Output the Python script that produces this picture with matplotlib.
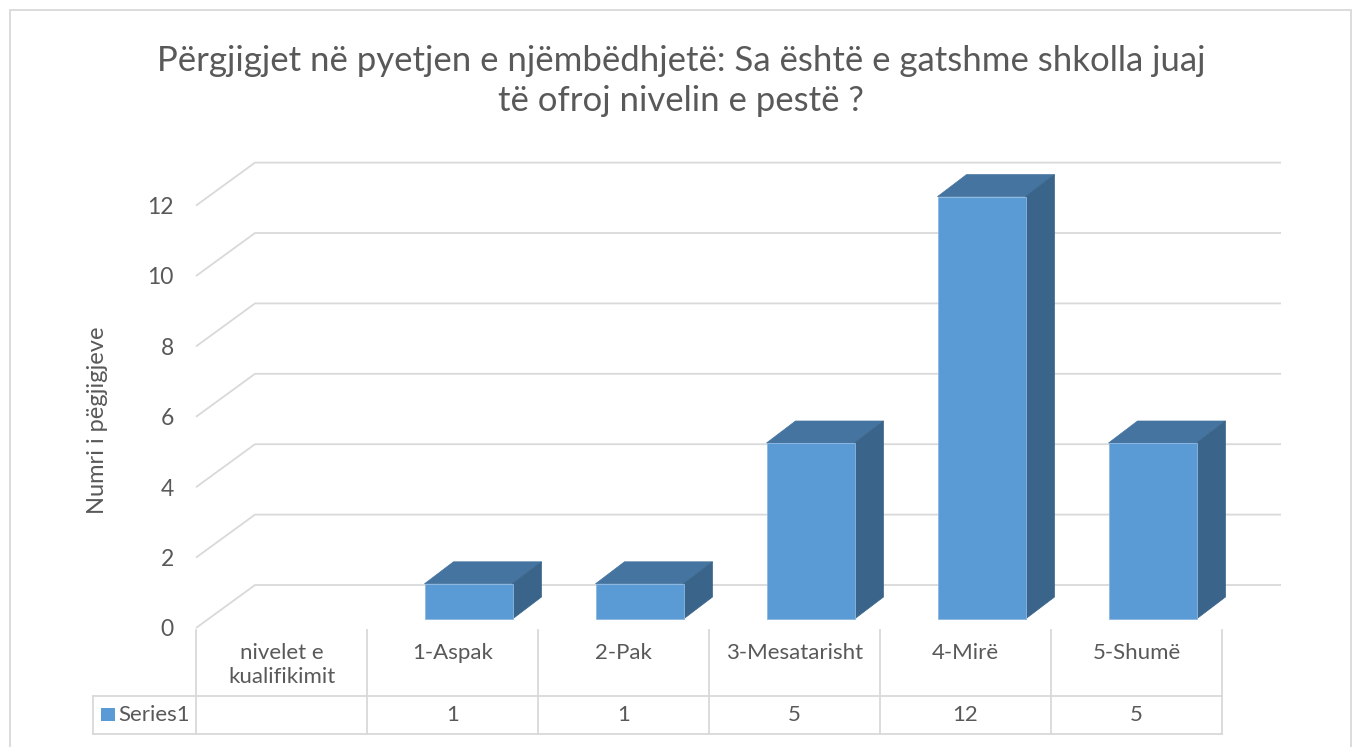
import numpy as np
import matplotlib.pyplot as plt
from matplotlib.patches import Polygon, Rectangle

plt.rcParams['font.family'] = ['Lato', 'DejaVu Sans']

# data
categories = ['nivelet e\nkualifikimit', '1-Aspak', '2-Pak', '3-Mesatarisht', '4-Mirë', '5-Shumë']
values = np.array([np.nan, 1, 1, 5, 12, 5])
series_name = 'Series1'
yticks = [0, 2, 4, 6, 8, 10, 12]
title = 'Përgjigjet në pyetjen e njëmbëdhjetë: Sa është e gatshme shkolla juaj\ntë ofroj nivelin e pestë ?'
ylabel = 'Numri i pëgjigjeve'

# colours
front_col = '#5B9BD5'
top_col = '#44749F'
side_col = '#3A6489'
grid_col = '#D9D9D9'
text_col = '#595959'

W, H, DPI = 1352, 747, 100
PX_X, PX_Y = 171.0, 35.2          # pixels per category / per unit
X0_PX, Y0_PX = 196.0, 628.0       # front plane origin
xlim = (-0.5, 5.9)
ylim = (-3.1, 13.6)

fig = plt.figure(figsize=(W / DPI, H / DPI), dpi=DPI)
ax = fig.add_axes([
    X0_PX / W,
    (H - (Y0_PX - ylim[0] * PX_Y)) / H,
    (xlim[1] - xlim[0]) * PX_X / W,
    (ylim[1] - ylim[0]) * PX_Y / H,
])
ax.set_xlim(*xlim)
ax.set_ylim(*ylim)
for s in ax.spines.values():
    s.set_visible(False)

# 3D offsets (in data units)
DX, DY = 59 / PX_X, 43 / PX_Y        # wall depth
BX, BY = 16 / PX_X, 9 / PX_Y         # bar front face offset
BW = 88 / PX_X                       # bar width
DDX, DDY = 29 / PX_X, 22 / PX_Y      # bar depth

n = len(categories)
x = np.arange(n)

# gridlines: floor diagonal + back wall
for v in yticks:
    ax.plot([-0.5, -0.5 + DX, n - 0.5 + DX], [v, v + DY, v + DY],
            color=grid_col, lw=1.3, zorder=1, clip_on=False, solid_capstyle='butt')

# bars
mask = ~np.isnan(values)
ax.bar(x[mask] + BX, values[mask], width=BW, bottom=BY, color=front_col,
       edgecolor='#8DB8E2', linewidth=0.6, zorder=4)
for xi, v in zip(x[mask], values[mask]):
    xl, xr = xi + BX - BW / 2, xi + BX + BW / 2
    top = BY + v
    ax.add_patch(Polygon([(xl, top), (xr, top), (xr + DDX, top + DDY), (xl + DDX, top + DDY)],
                         closed=True, facecolor=top_col, edgecolor=top_col, lw=0.5, zorder=3))
    ax.add_patch(Polygon([(xr, BY), (xr + DDX, BY + DDY), (xr + DDX, top + DDY), (xr, top)],
                         closed=True, facecolor=side_col, edgecolor=side_col, lw=0.5, zorder=3))

# y axis ticks
ax.set_xticks([])
ax.set_yticks(yticks)
ax.set_yticklabels([str(t) for t in yticks])
ax.tick_params(axis='y', length=0, pad=16, labelsize=16.5, labelcolor=text_col)

ax.text(-0.5 - (196 - 97) / PX_X, (Y0_PX - 420) / PX_Y, ylabel, rotation=90,
        ha='center', va='center', fontsize=17, color=text_col, clip_on=False)

# data table
row_top = (Y0_PX - 696.3) / PX_Y
row_bot = (Y0_PX - 733.7) / PX_Y
head_top = (Y0_PX - 630) / PX_Y
left_edge = -0.5 - (196 - 92.7) / PX_X
tkw = dict(color=grid_col, lw=1.3, clip_on=False, zorder=1)
for xb in np.arange(-0.5, n):
    ax.plot([xb, xb], [head_top, row_bot], **tkw)
ax.plot([left_edge, n - 0.5], [row_top, row_top], **tkw)
ax.plot([left_edge, n - 0.5], [row_bot, row_bot], **tkw)
ax.plot([left_edge, left_edge], [row_top, row_bot], **tkw)

for xi, lab in zip(x, categories):
    ax.text(xi, (Y0_PX - 643) / PX_Y, lab, ha='center', va='top', fontsize=16,
            color=text_col, linespacing=1.25, clip_on=False)
for xi, v in zip(x, values):
    if not np.isnan(v):
        ax.text(xi, (row_top + row_bot) / 2, str(int(v)), ha='center', va='center',
                fontsize=16, color=text_col, clip_on=False)

ax.add_patch(Rectangle((-0.5 - 95 / PX_X, (Y0_PX - 721) / PX_Y), 14 / PX_X, 13 / PX_Y,
                       facecolor=front_col, edgecolor='none', clip_on=False))
ax.text(-0.5 - 78 / PX_X, (row_top + row_bot) / 2, series_name, ha='left', va='center',
        fontsize=16, color=text_col, clip_on=False)

# title
fig.text(681 / W, 1 - 81 / H, title, ha='center', va='center', fontsize=25,
         color=text_col, linespacing=1.32)

# chart border
fig.add_artist(Rectangle((10 / W, -0.02), 1341 / W, (H - 10) / H + 0.02,
                         transform=fig.transFigure, facecolor='none',
                         edgecolor=grid_col, lw=1.3))

fig.savefig('out.png', dpi=DPI, facecolor='white')
